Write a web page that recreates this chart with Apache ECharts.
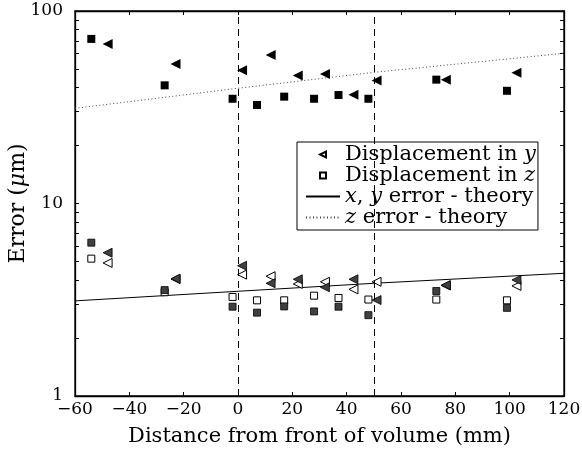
<!DOCTYPE html>
<html><head><meta charset="utf-8">
<script src="https://cdn.jsdelivr.net/npm/echarts@6/dist/echarts.min.js"></script>
<style>html,body{margin:0;padding:0;background:#fff}#c{width:582px;height:455px}</style>
</head><body><div id="c"></div>
<script>
// ---- data ----
const xTickValues = [-60, -40, -20, 0, 20, 40, 60, 80, 100, 120];
const yTickLabelValues = [1, 10, 100];
const yTickValues = [1,2,3,4,5,6,7,8,9,10,20,30,40,50,60,70,80,90,100];
const markLineX = [0, 50];

const triX = [-48, -23, 1.5, 12, 22, 32, 42.5, 51, 76.5, 102.5];
const squX = [-54, -27, -2, 7, 17, 28, 37, 48, 73, 99];

const triTop      = [67.4, 53.0, 49.2, 59.1, 46.3, 47.1, 36.7, 43.5, 44.0, 47.8];
const squTop      = [71.6, 41.1, 35.0, 32.5, 35.9, 35.0, 36.6, 35.0, 44.0, 38.5];
const triLowFill  = [5.55, 4.07, 4.75, 3.85, 4.04, 3.67, 4.04, 3.15, 3.77, 4.01];
const triLowOpen  = [4.91, 4.05, 4.27, 4.19, 3.82, 3.92, 3.58, 3.92, 3.75, 3.73];
const squLowFill  = [6.26, 3.55, 2.91, 2.71, 2.92, 2.75, 2.91, 2.63, 3.51, 2.87];
const squLowOpen  = [5.17, 3.46, 3.27, 3.14, 3.14, 3.32, 3.23, 3.17, 3.17, 3.14];

const theoryX   = [-60, 0, 50, 120];
const theoryXY  = [3.12, 3.50, 3.85, 4.34];
const theoryZ   = [31.2, 39.7, 48.0, 60.3];

const zip = (xs, ys) => xs.map((x, i) => [x, ys[i]]);

const FONT = 'DejaVu Serif';
const TRI_LEFT = 'path://M10,0L10,10L0,5Z';
const SQUARE = 'path://M0,0H10V10H0Z';

const names = {
  dy: 'Displacement in y',
  dz: 'Displacement in z',
  txy: 'x, y error - theory',
  tz: 'z error - theory'
};
const legendRich = {
  dy: '{n|Displacement in }{i|y}',
  dz: '{n|Displacement in }{i|z}',
  txy: '{i|x}{n|, }{i|y}{n| error - theory}',
  tz: '{i|z}{n| error - theory}'
};
const nameToRich = {};
Object.keys(names).forEach(k => nameToRich[names[k]] = legendRich[k]);

const chart = echarts.init(document.getElementById('c'), null, {renderer: 'canvas'});

const openStyle = {color: '#fff', borderColor: '#000', borderWidth: 1, opacity: 1};
const darkStyle = {color: '#404040', borderColor: '#000', borderWidth: 0.8, opacity: 1};
const blackStyle = {color: '#000', borderColor: '#000', borderWidth: 0, opacity: 1};
const LFS = 21;

const option = {
  animation: false,
  backgroundColor: '#fff',
  textStyle: {fontFamily: FONT, color: '#000'},
  grid: {left: 75, right: 18, top: 11, bottom: 59, outerBoundsMode: 'none', containLabel: false,
    show: true, borderColor: '#000', borderWidth: 1.3, backgroundColor: 'transparent'},
  xAxis: [{
    type: 'value', min: -60, max: 120, interval: 20, position: 'bottom',
    name: 'Distance from front of volume (mm)', nameLocation: 'middle', nameGap: 30, nameMoveOverlap: false,
    nameTextStyle: {fontFamily: FONT, fontSize: 21, color: '#000'},
    axisLine: {show: true, onZero: false, lineStyle: {color: '#000', width: 1.3}},
    axisTick: {show: true, inside: true, length: 4, lineStyle: {color: '#000'}},
    axisLabel: {fontFamily: FONT, fontSize: 17, color: '#000', margin: 5,
      formatter: v => v < 0 ? '\u2212' + Math.abs(v) : String(v),
      customValues: xTickValues},
    splitLine: {show: false}
  }, {
    type: 'value', min: -60, max: 120, interval: 20, position: 'top',
    axisLine: {show: true, onZero: false, lineStyle: {color: '#000', width: 1.3}},
    axisTick: {show: true, inside: true, length: 4, lineStyle: {color: '#000'}},
    axisLabel: {show: false}, splitLine: {show: false}
  }],
  yAxis: [{
    type: 'log', logBase: 10, min: 1, max: 100, position: 'left',
    name: 'Error ({i|\u03bc}m)', nameLocation: 'middle', nameGap: 46, nameRotate: 90, nameMoveOverlap: false,
    nameTextStyle: {fontFamily: FONT, fontSize: 22, color: '#000',
      rich: {i: {fontStyle: 'italic', fontFamily: FONT, fontSize: 22}}},
    axisLine: {show: true, onZero: false, lineStyle: {color: '#000', width: 1.3}},
    axisTick: {show: true, inside: true, length: 4, lineStyle: {color: '#000'}, customValues: yTickValues},
    axisLabel: {fontFamily: FONT, fontSize: 17, color: '#000', margin: 12, customValues: yTickLabelValues},
    splitLine: {show: false}
  }, {
    type: 'log', logBase: 10, min: 1, max: 100, position: 'right',
    axisLine: {show: true, onZero: false, lineStyle: {color: '#000', width: 1.3}},
    axisTick: {show: true, inside: true, length: 4, lineStyle: {color: '#000'}, customValues: yTickValues},
    axisLabel: {show: false}, splitLine: {show: false}
  }],
  legend: {
    show: true, orient: 'vertical', left: 297, top: 142,
    backgroundColor: '#fff', borderColor: '#000', borderWidth: 1,
    padding: [2, 2, 2, 8], itemGap: 0, itemWidth: 34, itemHeight: 6,
    data: [
      {name: names.dy, icon: TRI_LEFT},
      {name: names.dz, icon: SQUARE},
      {name: names.txy, itemStyle: {color: 'rgba(0,0,0,0)', borderWidth: 0}},
      {name: names.tz, itemStyle: {color: 'rgba(0,0,0,0)', borderWidth: 0}}
    ],
    formatter: n => nameToRich[n] || n,
    textStyle: {fontFamily: FONT, fontSize: LFS, color: '#000', lineHeight: 20,
      rich: {n: {fontFamily: FONT, fontSize: LFS, lineHeight: 20},
             i: {fontFamily: FONT, fontSize: LFS, fontStyle: 'italic', lineHeight: 20}}}
  },
  series: [
    {
      name: names.txy, type: 'line', xAxisIndex: 0, yAxisIndex: 0, showSymbol: false, symbol: 'none',
      data: zip(theoryX, theoryXY), lineStyle: {color: '#000', width: 1}, itemStyle: {color: '#000'},
      z: 2,
      markLine: {silent: true, symbol: 'none', label: {show: false},
        lineStyle: {color: '#000', width: 1, type: [7, 5]},
        data: markLineX.map(v => ({xAxis: v}))}
    },
    {
      name: names.tz, type: 'line', xAxisIndex: 0, yAxisIndex: 0, showSymbol: false, symbol: 'none',
      data: zip(theoryX, theoryZ), lineStyle: {color: '#444', width: 1, type: [1, 2.5]}, itemStyle: {color: '#444'}, z: 2
    },
    {
      name: names.dy, type: 'scatter', symbol: TRI_LEFT, symbolSize: 9,
      data: zip(triX, triLowOpen), itemStyle: openStyle, z: 3
    },
    {
      name: names.dz, type: 'scatter', symbol: SQUARE, symbolSize: 7,
      data: zip(squX, squLowOpen), itemStyle: openStyle, z: 3
    },
    {
      name: 'triLowFill', type: 'scatter', symbol: TRI_LEFT, symbolSize: 9,
      data: zip(triX, triLowFill), itemStyle: darkStyle, z: 4
    },
    {
      name: 'squLowFill', type: 'scatter', symbol: SQUARE, symbolSize: 7,
      data: zip(squX, squLowFill), itemStyle: darkStyle, z: 4
    },
    {
      name: 'triTop', type: 'scatter', symbol: TRI_LEFT, symbolSize: 10,
      data: zip(triX, triTop), itemStyle: blackStyle, z: 4
    },
    {
      name: 'squTop', type: 'scatter', symbol: SQUARE, symbolSize: 8,
      data: zip(squX, squTop), itemStyle: blackStyle, z: 4
    }
  ]
};
chart.setOption(option);
</script>
</body></html>
